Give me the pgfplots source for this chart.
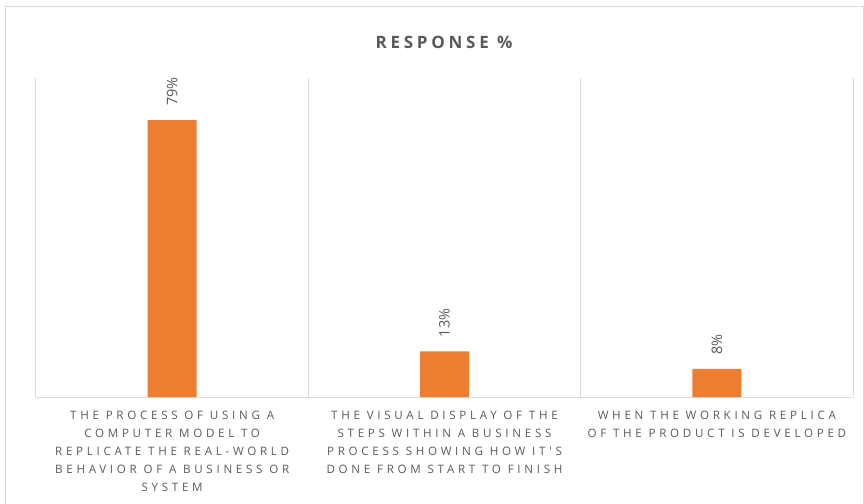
\documentclass[border=0pt]{standalone}
\usepackage{pgfplots}
\pgfplotsset{compat=1.18}
\usepackage{fontspec}
\setmainfont{Open Sans}
\newfontfamily\lblfont[LetterSpace=32]{Open Sans}
\newfontfamily\ttlfont[LetterSpace=22]{Open Sans}
\definecolor{barorange}{HTML}{ED7D31}
\definecolor{gridgray}{HTML}{D9D9D9}
\definecolor{txtgray}{HTML}{595959}
\begin{document}
\begin{tikzpicture}
\path[use as bounding box] (-36pt,-106pt) rectangle (828pt,397pt);
\draw[gridgray, line width=1pt] (-31pt,-130pt) rectangle (827pt,390pt);
\begin{axis}[
  at={(0pt,0pt)}, anchor=south west,
  scale only axis,
  width=817pt, height=319pt,
  xmin=-0.5, xmax=2.5,
  ymin=0, ymax=91,
  axis x line*=bottom,
  axis y line=none,
  x axis line style={gridgray, line width=1pt},
  xtick={0,1,2},
  major tick length=0pt,
  xticklabels={
    {THE PROCESS OF USING A\\COMPUTER MODEL TO\\REPLICATE THE REAL-WORLD\\BEHAVIOR OF A BUSINESS OR\\SYSTEM},
    {THE VISUAL DISPLAY OF THE\\STEPS WITHIN A BUSINESS\\PROCESS SHOWING HOW IT'S\\DONE FROM START TO FINISH},
    {WHEN THE WORKING REPLICA\\OF THE PRODUCT IS DEVELOPED}},
  xticklabel style={align=center, font=\lblfont\fontsize{11.6}{18}\selectfont, text=txtgray, anchor=north, yshift=-11pt},
  extra x ticks={-0.5,0.5,1.5,2.5},
  extra x tick labels={},
  extra x tick style={grid=major, major grid style={gridgray, line width=1pt}},
  ybar, bar width=49pt,
  /pgf/number format/assume math mode=true,
  nodes near coords={\pgfmathprintnumber{\pgfplotspointmeta}\%},
  every node near coord/.append style={rotate=90, anchor=west, font=\fontsize{14.5}{16}\selectfont, text=txtgray, inner sep=0pt, xshift=14pt},
  clip=false,
]
\addplot[fill=barorange, draw=none] coordinates {(0,79) (1,13) (2,8)};
\end{axis}
\node[text=txtgray, font=\ttlfont\bfseries\fontsize{17}{19}\selectfont] at (408pt,355pt) {RESPONSE \%};
\end{tikzpicture}
\end{document}
